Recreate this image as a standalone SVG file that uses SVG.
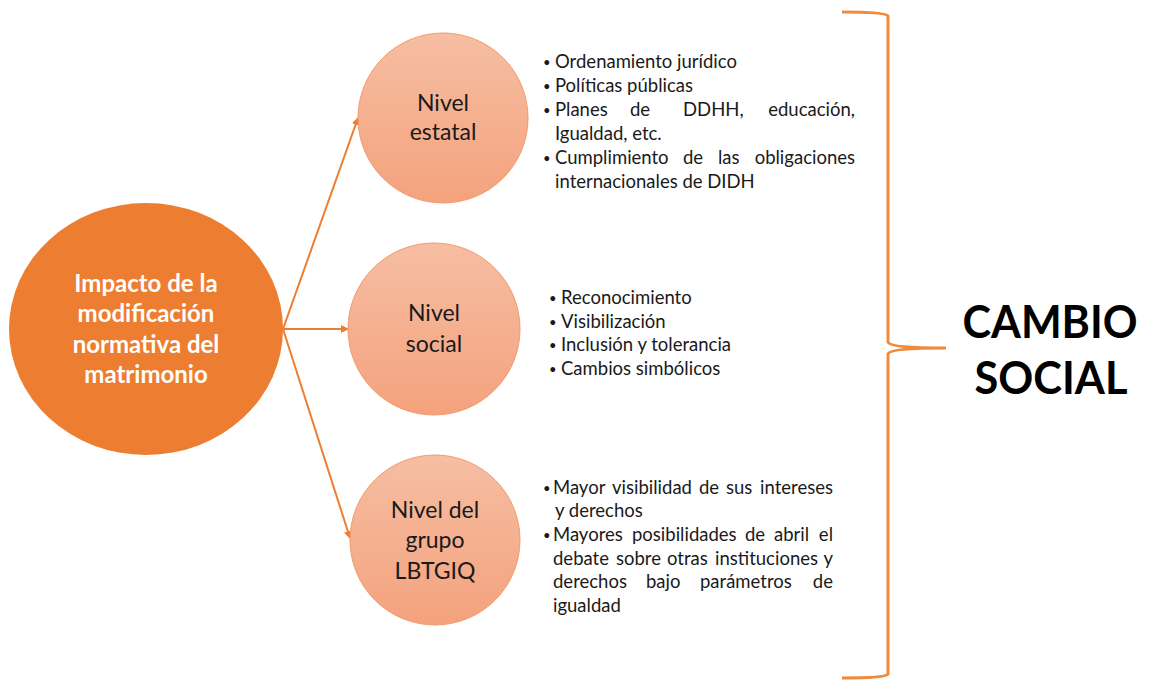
<svg xmlns="http://www.w3.org/2000/svg" width="1154" height="682" viewBox="0 0 1154 682">
<defs>
<linearGradient id="g" x1="0" y1="0" x2="0" y2="1">
<stop offset="0" stop-color="#F6BEA3"/>
<stop offset="1" stop-color="#F4A27D"/>
</linearGradient>
<marker id="ah" markerWidth="8" markerHeight="8" refX="7" refY="4" orient="auto" markerUnits="userSpaceOnUse">
<path d="M0,0 L8,4 L0,8 Z" fill="#ED7D31"/>
</marker>
<style>
.lv{fill:url(#g);stroke:#F29A6A;stroke-width:1}
.lt{font-family:Lato,"Liberation Sans",sans-serif;font-size:23px;fill:#1a1a1a;text-anchor:middle}
.mt{font-family:Lato,"Liberation Sans",sans-serif;font-size:24px;font-weight:bold;fill:#fff;text-anchor:middle}
.bt{font-family:Lato,"Liberation Sans",sans-serif;font-size:18.5px;fill:#1a1a1a}
.bt .e{text-anchor:end}
.bt .b{font-size:13px}
.big{font-family:Lato,"Liberation Sans",sans-serif;font-size:46px;font-weight:bold;fill:#000;text-anchor:middle}
.cn{stroke:#ED7D31;stroke-width:2;fill:none}
</style>
</defs>
<rect width="1154" height="682" fill="#fff"/>
<g id="connectors">
<line class="cn" x1="283" y1="329" x2="358" y2="118" marker-end="url(#ah)"/>
<line class="cn" x1="283" y1="329" x2="348" y2="329" marker-end="url(#ah)"/>
<line class="cn" x1="283" y1="329" x2="350" y2="538" marker-end="url(#ah)"/>
</g>
<g id="main">
<ellipse cx="146" cy="329" rx="137" ry="126" fill="#ED7D31"/>
<text class="mt" x="146" y="292">Impacto de la</text>
<text class="mt" x="146" y="322">modificación</text>
<text class="mt" x="146" y="353">normativa del</text>
<text class="mt" x="146" y="383">matrimonio</text>
</g>
<g id="nivel-estatal">
<circle class="lv" cx="443" cy="118" r="85"/>
<text class="lt" x="443" y="111">Nivel</text>
<text class="lt" x="443" y="140">estatal</text>
</g>
<g id="nivel-social">
<circle class="lv" cx="434" cy="329" r="86"/>
<text class="lt" x="434" y="321">Nivel</text>
<text class="lt" x="434" y="352">social</text>
</g>
<g id="nivel-grupo">
<circle class="lv" cx="435" cy="540" r="85"/>
<text class="lt" x="435" y="518">Nivel del</text>
<text class="lt" x="435" y="548">grupo</text>
<text class="lt" x="435" y="579">LBTGIQ</text>
</g>
<g id="list-estatal" class="bt">
<text class="b" x="543" y="67">•</text><text x="555" y="68">Ordenamiento jurídico</text>
<text class="b" x="543" y="91">•</text><text x="555" y="92">Políticas públicas</text>
<text class="b" x="543" y="115">•</text><text y="116"><tspan x="555">Planes</tspan><tspan x="630">de</tspan><tspan x="683">DDHH,</tspan><tspan class="e" x="855">educación,</tspan></text>
<text x="555" y="140">Igualdad, etc.</text>
<text class="b" x="543" y="163">•</text><text y="164"><tspan x="555">Cumplimiento</tspan><tspan x="683">de</tspan><tspan x="718">las</tspan><tspan class="e" x="855">obligaciones</tspan></text>
<text x="555" y="188">internacionales de DIDH</text>
</g>
<g id="list-social" class="bt">
<text class="b" x="549" y="303">•</text><text x="561" y="304">Reconocimiento</text>
<text class="b" x="549" y="327">•</text><text x="561" y="328">Visibilización</text>
<text class="b" x="549" y="350">•</text><text x="561" y="351">Inclusión y tolerancia</text>
<text class="b" x="549" y="374">•</text><text x="561" y="375">Cambios simbólicos</text>
</g>
<g id="list-grupo" class="bt">
<text class="b" x="543" y="493">•</text><text y="494"><tspan x="553">Mayor</tspan><tspan x="612">visibilidad</tspan><tspan x="699">de</tspan><tspan x="726">sus</tspan><tspan class="e" x="833">intereses</tspan></text>
<text x="555" y="517">y derechos</text>
<text class="b" x="543" y="540">•</text><text y="541"><tspan x="553">Mayores</tspan><tspan x="632">posibilidades</tspan><tspan x="745">de</tspan><tspan x="774">abril</tspan><tspan class="e" x="833">el</tspan></text>
<text y="565"><tspan x="553">debate</tspan><tspan x="616">sobre</tspan><tspan x="667">otras</tspan><tspan x="715">instituciones</tspan><tspan class="e" x="833">y</tspan></text>
<text y="588"><tspan x="553">derechos</tspan><tspan x="646">bajo</tspan><tspan x="700">parámetros</tspan><tspan class="e" x="833">de</tspan></text>
<text x="553" y="612">igualdad</text>
</g>
<g id="bracket">
<path d="M842,12 Q886,12 888,16 L888,342 Q889,348 946,348 Q889,348 888,354 L888,674 Q886,678 842,678" fill="none" stroke="#F08A3C" stroke-width="3"/>
</g>
<g id="cambio-social">
<text class="big" x="1050" y="338" textLength="175" lengthAdjust="spacingAndGlyphs">CAMBIO</text>
<text class="big" x="1051" y="394" textLength="153" lengthAdjust="spacingAndGlyphs">SOCIAL</text>
</g>
</svg>
